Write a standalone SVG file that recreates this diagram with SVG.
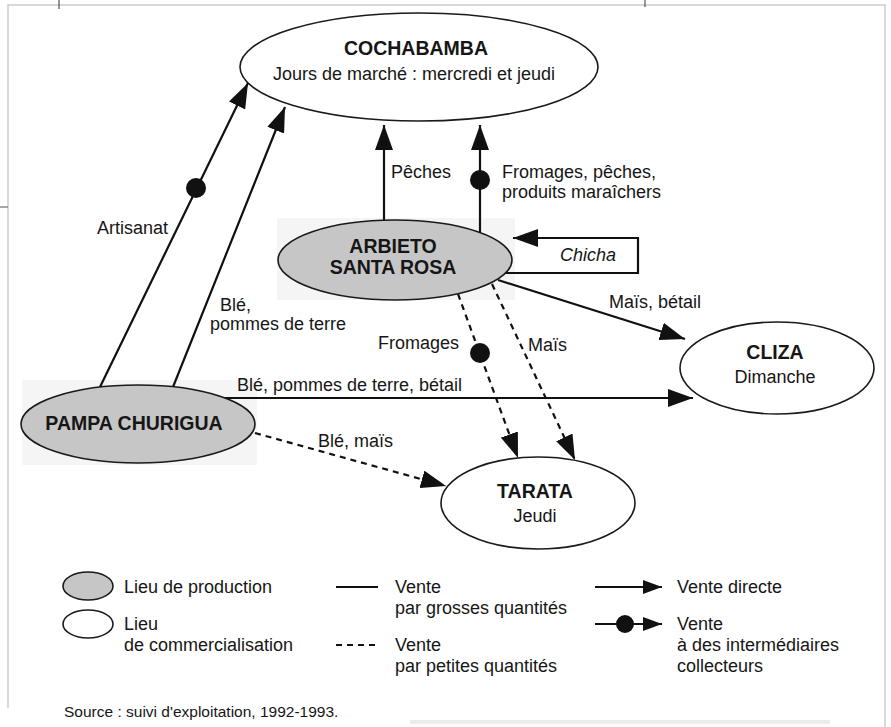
<svg xmlns="http://www.w3.org/2000/svg" width="891" height="727" viewBox="0 0 891 727">
  <style>
    text { font-family: "Liberation Sans", Arial, sans-serif; fill: #161616; }
    .lbl { font-size: 18px; }
    .ttl { font-size: 19.5px; font-weight: bold; }
    .mid { text-anchor: middle; }
    .src { font-size: 15.5px; }
    .prod { fill: #c6c6c6; stroke: #1a1a1a; stroke-width: 1.6; }
    .mkt { fill: #ffffff; stroke: #1a1a1a; stroke-width: 1.6; }
    .halo { fill: #f5f5f5; }
    .solid { fill: none; stroke: #111; stroke-width: 2.2; }
    .dash { fill: none; stroke: #111; stroke-width: 2.2; stroke-dasharray: 6 5; }
    .dot { fill: #111; }
    .frame { fill: none; stroke: #cdcdcd; stroke-width: 1.5; }
  </style>
  <defs>
    <marker id="arrow" markerUnits="userSpaceOnUse" markerWidth="26" markerHeight="18" refX="25" refY="9" orient="auto">
      <path d="M0,0 L25,9 L0,18 Z" fill="#111"/>
    </marker>
    <marker id="arrow-sm" markerUnits="userSpaceOnUse" markerWidth="20" markerHeight="14" refX="19" refY="7" orient="auto">
      <path d="M0,0 L19,7 L0,14 Z" fill="#111"/>
    </marker>
  </defs>

  <rect width="891" height="727" fill="#ffffff"/>

  <!-- page frame -->
  <g id="frame">
    <path class="frame" d="M8,708 V5 H885 V727"/>
    <line x1="59" y1="0" x2="59" y2="9" stroke="#333" stroke-width="1"/>
    <line x1="645" y1="0" x2="645" y2="7" stroke="#333" stroke-width="1"/>
    <line x1="0" y1="207" x2="8" y2="207" stroke="#888" stroke-width="1.5"/>
    <rect x="410" y="720" width="420" height="4" fill="#ececec"/>
  </g>

  <!-- faint screen tint behind the production sites -->
  <g id="tints">
    <rect class="halo" x="277" y="218" width="238" height="82"/>
    <rect class="halo" x="22" y="380" width="235" height="85"/>
  </g>

  <!-- connectors -->
  <g id="connectors">
    <!-- Pampa Churigua -> Cochabamba -->
    <line class="solid" x1="100" y1="387" x2="248" y2="83" marker-end="url(#arrow)"/>
    <circle class="dot" cx="196" cy="188" r="10"/>
    <line class="solid" x1="173" y1="387" x2="285" y2="107" marker-end="url(#arrow)"/>
    <!-- Arbieto -> Cochabamba -->
    <line class="solid" x1="384" y1="221" x2="384" y2="125" marker-end="url(#arrow)"/>
    <line class="solid" x1="480" y1="232" x2="480" y2="125" marker-end="url(#arrow)"/>
    <circle class="dot" cx="480" cy="180" r="10"/>
    <!-- Chicha loop -->
    <path class="solid" d="M503,273 H638 V238 H513" marker-end="url(#arrow)"/>
    <!-- Arbieto -> Cliza -->
    <line class="solid" x1="498" y1="280" x2="685" y2="339" marker-end="url(#arrow)"/>
    <!-- Pampa -> Cliza -->
    <line class="solid" x1="223" y1="398" x2="693" y2="398" marker-end="url(#arrow)"/>
    <!-- Arbieto -> Tarata -->
    <line class="dash" x1="458" y1="294" x2="518" y2="458" marker-end="url(#arrow)"/>
    <circle class="dot" cx="480" cy="353" r="10"/>
    <line class="dash" x1="492" y1="284" x2="575" y2="460" marker-end="url(#arrow)"/>
    <!-- Pampa -> Tarata -->
    <line class="dash" x1="255" y1="433" x2="446" y2="486" marker-end="url(#arrow)"/>
  </g>

  <!-- connector labels -->
  <g id="labels">
    <text class="lbl" x="168" y="234" text-anchor="end">Artisanat</text>
    <text class="lbl" x="220" y="311">Blé,</text>
    <text class="lbl" x="210" y="330">pommes de terre</text>
    <text class="lbl" x="391" y="178">Pêches</text>
    <text class="lbl" x="502" y="178">Fromages, pêches,</text>
    <text class="lbl" x="502" y="198">produits maraîchers</text>
    <text class="lbl" x="560" y="261" font-style="italic">Chicha</text>
    <text class="lbl" x="609" y="308">Maïs, bétail</text>
    <text class="lbl" x="378" y="349">Fromages</text>
    <text class="lbl" x="528" y="351">Maïs</text>
    <text class="lbl" x="237" y="391">Blé, pommes de terre, bétail</text>
    <text class="lbl" x="318" y="447">Blé, maïs</text>
  </g>

  <!-- nodes -->
  <g id="cochabamba">
    <ellipse class="mkt" cx="419" cy="67" rx="179" ry="54"/>
    <text class="ttl mid" x="416" y="55">COCHABAMBA</text>
    <text class="lbl mid" x="414" y="80">Jours de marché : mercredi et jeudi</text>
  </g>

  <g id="arbieto">
    <ellipse class="prod" cx="395" cy="260" rx="117" ry="40"/>
    <text class="ttl mid" x="393" y="253">ARBIETO</text>
    <text class="ttl mid" x="393" y="274">SANTA ROSA</text>
  </g>

  <g id="pampa">
    <ellipse class="prod" cx="138" cy="424" rx="117" ry="39"/>
    <text class="ttl mid" x="134" y="430">PAMPA CHURIGUA</text>
  </g>

  <g id="cliza">
    <ellipse class="mkt" cx="777" cy="368" rx="97" ry="46"/>
    <text class="ttl mid" x="775" y="359">CLIZA</text>
    <text class="lbl mid" x="775" y="383">Dimanche</text>
  </g>

  <g id="tarata">
    <ellipse class="mkt" cx="538" cy="503" rx="97" ry="46"/>
    <text class="ttl mid" x="535" y="498">TARATA</text>
    <text class="lbl mid" x="535" y="522">Jeudi</text>
  </g>

  <!-- legend -->
  <g id="legend">
    <ellipse class="prod" cx="88" cy="586" rx="25" ry="14"/>
    <text class="lbl" x="124" y="593">Lieu de production</text>
    <ellipse class="mkt" cx="88" cy="624" rx="25" ry="14"/>
    <text class="lbl" x="124" y="630">Lieu</text>
    <text class="lbl" x="124" y="651">de commercialisation</text>

    <line class="solid" x1="336" y1="587" x2="378" y2="587"/>
    <text class="lbl" x="395" y="593">Vente</text>
    <text class="lbl" x="395" y="614">par grosses quantités</text>
    <line class="dash" x1="336" y1="645" x2="378" y2="645"/>
    <text class="lbl" x="395" y="651">Vente</text>
    <text class="lbl" x="395" y="672">par petites quantités</text>

    <line class="solid" x1="595" y1="587" x2="662" y2="587" marker-end="url(#arrow-sm)"/>
    <text class="lbl" x="677" y="593">Vente directe</text>
    <line class="solid" x1="595" y1="624" x2="662" y2="624" marker-end="url(#arrow-sm)"/>
    <circle class="dot" cx="625" cy="624" r="9"/>
    <text class="lbl" x="677" y="630">Vente</text>
    <text class="lbl" x="677" y="651">à des intermédiaires</text>
    <text class="lbl" x="677" y="672">collecteurs</text>
  </g>

  <text class="src" x="64" y="717">Source : suivi d'exploitation, 1992-1993.</text>
</svg>
